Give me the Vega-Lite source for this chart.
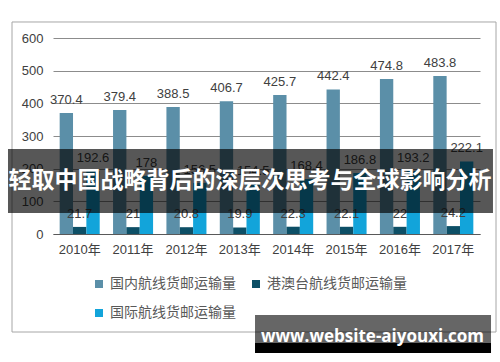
{
  "$schema": "https://vega.github.io/schema/vega-lite/v6.json",
  "width": 427,
  "height": 196,
  "autosize": {"type": "none"},
  "padding": {"left": 53, "top": 38, "right": 20, "bottom": 128},
  "background": "white",
  "config": {
    "view": {"stroke": null},
    "font": "Liberation Sans"
  },
  "data": {
    "values": [
      {"year": "2010年", "series": "国内航线货邮运输量", "value": 370.4},
      {"year": "2011年", "series": "国内航线货邮运输量", "value": 379.4},
      {"year": "2012年", "series": "国内航线货邮运输量", "value": 388.5},
      {"year": "2013年", "series": "国内航线货邮运输量", "value": 406.7},
      {"year": "2014年", "series": "国内航线货邮运输量", "value": 425.7},
      {"year": "2015年", "series": "国内航线货邮运输量", "value": 442.4},
      {"year": "2016年", "series": "国内航线货邮运输量", "value": 474.8},
      {"year": "2017年", "series": "国内航线货邮运输量", "value": 483.8},
      {"year": "2010年", "series": "港澳台航线货邮运输量", "value": 21.7},
      {"year": "2011年", "series": "港澳台航线货邮运输量", "value": 21},
      {"year": "2012年", "series": "港澳台航线货邮运输量", "value": 20.8},
      {"year": "2013年", "series": "港澳台航线货邮运输量", "value": 19.9},
      {"year": "2014年", "series": "港澳台航线货邮运输量", "value": 22.3},
      {"year": "2015年", "series": "港澳台航线货邮运输量", "value": 22.1},
      {"year": "2016年", "series": "港澳台航线货邮运输量", "value": 22},
      {"year": "2017年", "series": "港澳台航线货邮运输量", "value": 24.2},
      {"year": "2010年", "series": "国际航线货邮运输量", "value": 192.6},
      {"year": "2011年", "series": "国际航线货邮运输量", "value": 178},
      {"year": "2012年", "series": "国际航线货邮运输量", "value": 156.5},
      {"year": "2013年", "series": "国际航线货邮运输量", "value": 154.5},
      {"year": "2014年", "series": "国际航线货邮运输量", "value": 168.4},
      {"year": "2015年", "series": "国际航线货邮运输量", "value": 186.8},
      {"year": "2016年", "series": "国际航线货邮运输量", "value": 193.2},
      {"year": "2017年", "series": "国际航线货邮运输量", "value": 222.1}
    ]
  },
  "layer": [
    {
      "encoding": {
        "x": {
          "field": "year", "type": "nominal", "sort": null,
          "scale": {"paddingInner": 0.25, "paddingOuter": 0.125},
          "axis": {
            "title": null, "labelAngle": 0, "ticks": false,
            "domainColor": "#595959", "domainWidth": 1,
            "labelColor": "#404040", "labelFontSize": 13, "labelPadding": 9,
            "labelFont": "Liberation Sans, Noto Sans CJK SC", "grid": false
          }
        },
        "xOffset": {
          "field": "series", "type": "nominal",
          "sort": ["国内航线货邮运输量", "港澳台航线货邮运输量", "国际航线货邮运输量"],
          "scale": {"paddingInner": 0, "paddingOuter": 0}
        },
        "y": {
          "field": "value", "type": "quantitative",
          "scale": {"domain": [0, 600]},
          "axis": {
            "title": null, "values": [0, 100, 200, 300, 400, 500, 600],
            "ticks": false, "domain": false, "gridColor": "#8c8c8c",
            "labelOverlap": false,
            "labelColor": "#404040", "labelFontSize": 13, "labelPadding": 10
          }
        }
      },
      "layer": [
        {
          "mark": {"type": "bar"},
          "encoding": {
            "color": {
              "field": "series", "type": "nominal",
              "scale": {
                "domain": ["国内航线货邮运输量", "港澳台航线货邮运输量", "国际航线货邮运输量"],
                "range": ["#5b8fa8", "#0d4f66", "#12a4da"]
              },
              "legend": {
                "title": null, "orient": "none", "legendX": 39, "legendY": 239,
                "columns": 2, "direction": "horizontal",
                "symbolType": "square", "symbolSize": 64, "symbolStrokeWidth": 0,
                "labelFont": "Noto Sans CJK SC", "labelFontSize": 14,
                "labelColor": "#595959", "labelLimit": 300, "labelOffset": 4,
                "columnPadding": 13, "rowPadding": 15, "padding": 0
              }
            }
          }
        },
        {
          "mark": {"type": "text", "dy": -9, "baseline": "alphabetic", "fontSize": 13, "color": "#404040"},
          "encoding": {"text": {"field": "value", "type": "quantitative"}}
        }
      ]
    },
    {
      "data": {"values": [{}]},
      "encoding": {},
      "layer": [
        {
          "mark": {"type": "rect", "fill": null, "stroke": "#a6a6a6", "strokeWidth": 1, "clip": false},
          "encoding": {
            "x": {"datum": -0.096, "type": "quantitative", "scale": {"domain": [0, 1]}, "axis": null},
            "x2": {"datum": 1.0375},
            "y": {"datum": 649, "type": "quantitative", "axis": null},
            "y2": {"datum": -300}
          }
        },
        {
          "mark": {"type": "rect", "fill": "black", "opacity": 0.66, "clip": false},
          "encoding": {
            "x": {"datum": -0.1054, "type": "quantitative", "scale": {"domain": [0, 1]}, "axis": null},
            "x2": {"datum": 1.0304},
            "y": {"datum": 260, "type": "quantitative", "axis": null},
            "y2": {"datum": 64}
          }
        },
        {
          "mark": {"type": "text", "color": "white", "font": "Noto Sans CJK SC", "fontWeight": "bold", "fontSize": 23, "baseline": "middle", "align": "center", "clip": false},
          "encoding": {
            "x": {"datum": 0.4614, "type": "quantitative", "scale": {"domain": [0, 1]}, "axis": null},
            "y": {"datum": 162, "type": "quantitative", "axis": null},
            "text": {"value": "轻取中国战略背后的深层次思考与全球影响分析"}
          }
        },
        {
          "mark": {"type": "rect", "fill": "black", "opacity": 0.6, "clip": false},
          "encoding": {
            "x": {"datum": 0.4731, "type": "quantitative", "scale": {"domain": [0, 1]}, "axis": null},
            "x2": {"datum": 1.0258},
            "y": {"datum": -248, "type": "quantitative", "axis": null},
            "y2": {"datum": -334}
          }
        },
        {
          "mark": {"type": "rect", "fill": "black", "clip": false},
          "encoding": {
            "x": {"datum": 0.4731, "type": "quantitative", "scale": {"domain": [0, 1]}, "axis": null},
            "x2": {"datum": 1.0258},
            "y": {"datum": -334, "type": "quantitative", "axis": null},
            "y2": {"datum": -364}
          }
        },
        {
          "mark": {"type": "text", "color": "white", "font": "Open Sans", "fontWeight": "bold", "fontSize": 17, "baseline": "alphabetic", "align": "center", "clip": false},
          "encoding": {
            "x": {"datum": 0.7482, "type": "quantitative", "scale": {"domain": [0, 1]}, "axis": null},
            "y": {"datum": -331, "type": "quantitative", "axis": null},
            "text": {"value": "www.website-aiyouxi.com"}
          }
        }
      ]
    }
  ],
  "resolve": {"scale": {"x": "independent"}, "axis": {"x": "independent", "y": "independent"}}
}
